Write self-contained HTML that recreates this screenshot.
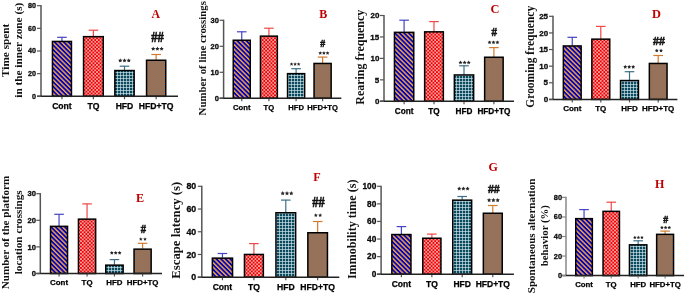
<!DOCTYPE html>
<html><head><meta charset="utf-8"><style>
html,body{margin:0;padding:0;background:#fff;}
svg{display:block;will-change:transform;filter:blur(0.3px);}
</style></head><body>
<svg width="685" height="294" viewBox="0 0 685 294">
<rect width="685" height="294" fill="#fff"/>
<defs>
<pattern id="pCont" patternUnits="userSpaceOnUse" width="3.25" height="3.25" patternTransform="rotate(45)">
<rect width="3.25" height="3.25" fill="#f5a440"/><rect width="3.25" height="1.8" fill="#0000c0"/></pattern>
<pattern id="pTQ" patternUnits="userSpaceOnUse" width="3.56" height="3.56">
<rect width="3.56" height="3.56" fill="#f00000"/><rect width="1.78" height="1.78" fill="#f5a0a0"/><rect x="1.78" y="1.78" width="1.78" height="1.78" fill="#f5a0a0"/></pattern>
<pattern id="pHFD" patternUnits="userSpaceOnUse" width="3.0" height="3.0">
<rect width="3.0" height="3.0" fill="#d6eaf0"/><rect x="0.65" y="0.65" width="2.35" height="2.35" fill="#0b4a5e"/></pattern>
<pattern id="pHT" patternUnits="userSpaceOnUse" width="2" height="2">
<rect width="2" height="2" fill="#5f7f98"/><rect width="1" height="1" fill="#cc641c"/><rect x="1" y="1" width="1" height="1" fill="#cc641c"/></pattern>
</defs>
<line x1="61.95" y1="41.10" x2="61.95" y2="37.00" stroke="#4444c6" stroke-width="1.2"/>
<line x1="57.15" y1="37.30" x2="66.75" y2="37.30" stroke="#4444c6" stroke-width="1.2"/>
<rect x="52.45" y="41.45" width="19.00" height="54.85" fill="url(#pCont)" stroke="#000" stroke-width="1.5"/>
<line x1="61.95" y1="96.30" x2="61.95" y2="99.30" stroke="#555" stroke-width="1.2"/>
<text stroke="#000" stroke-width="0.25" x="61.95" y="109.21" font-size="8.6" text-anchor="middle" font-family='"Liberation Sans", sans-serif' font-weight="bold" fill="#000">Cont</text>
<line x1="93.40" y1="36.30" x2="93.40" y2="29.90" stroke="#f04848" stroke-width="1.2"/>
<line x1="88.60" y1="30.20" x2="98.20" y2="30.20" stroke="#f04848" stroke-width="1.2"/>
<rect x="83.55" y="36.65" width="19.70" height="59.65" fill="url(#pTQ)" stroke="#000" stroke-width="1.5"/>
<line x1="93.40" y1="96.30" x2="93.40" y2="99.30" stroke="#555" stroke-width="1.2"/>
<text stroke="#000" stroke-width="0.25" x="93.40" y="109.21" font-size="8.6" text-anchor="middle" font-family='"Liberation Sans", sans-serif' font-weight="bold" fill="#000">TQ</text>
<line x1="124.50" y1="70.20" x2="124.50" y2="65.90" stroke="#3d7088" stroke-width="1.2"/>
<line x1="119.70" y1="66.20" x2="129.30" y2="66.20" stroke="#3d7088" stroke-width="1.2"/>
<rect x="114.85" y="70.55" width="19.30" height="25.75" fill="url(#pHFD)" stroke="#000" stroke-width="1.5"/>
<line x1="124.50" y1="96.30" x2="124.50" y2="99.30" stroke="#555" stroke-width="1.2"/>
<text stroke="#000" stroke-width="0.25" x="124.50" y="109.21" font-size="8.6" text-anchor="middle" font-family='"Liberation Sans", sans-serif' font-weight="bold" fill="#000">HFD</text>
<line x1="156.15" y1="59.90" x2="156.15" y2="54.20" stroke="#d27a30" stroke-width="1.2"/>
<line x1="151.35" y1="54.50" x2="160.95" y2="54.50" stroke="#d27a30" stroke-width="1.2"/>
<rect x="146.55" y="60.25" width="19.20" height="36.05" fill="url(#pHT)" stroke="#000" stroke-width="1.5"/>
<line x1="156.15" y1="96.30" x2="156.15" y2="99.30" stroke="#555" stroke-width="1.2"/>
<text stroke="#000" stroke-width="0.25" x="156.15" y="109.21" font-size="8.6" text-anchor="middle" font-family='"Liberation Sans", sans-serif' font-weight="bold" fill="#000">HFD+TQ</text>
<line x1="41.00" y1="5.10" x2="41.00" y2="96.30" stroke="#555" stroke-width="1.5"/>
<line x1="37.00" y1="96.30" x2="178.00" y2="96.30" stroke="#222" stroke-width="1.5"/>
<line x1="37.00" y1="96.30" x2="41.00" y2="96.30" stroke="#555" stroke-width="1.2"/>
<text stroke="#0a0a0a" stroke-width="0.3" x="32.09" y="98.77" font-size="7.2" font-family='"Liberation Sans", sans-serif' font-weight="bold" fill="#0a0a0a">0</text>
<line x1="37.00" y1="73.65" x2="41.00" y2="73.65" stroke="#555" stroke-width="1.2"/>
<text stroke="#0a0a0a" stroke-width="0.3" x="28.10" y="76.12" font-size="7.2" font-family='"Liberation Sans", sans-serif' font-weight="bold" fill="#0a0a0a">20</text>
<line x1="37.00" y1="51.00" x2="41.00" y2="51.00" stroke="#555" stroke-width="1.2"/>
<text stroke="#0a0a0a" stroke-width="0.3" x="28.10" y="53.48" font-size="7.2" font-family='"Liberation Sans", sans-serif' font-weight="bold" fill="#0a0a0a">40</text>
<line x1="37.00" y1="28.35" x2="41.00" y2="28.35" stroke="#555" stroke-width="1.2"/>
<text stroke="#0a0a0a" stroke-width="0.3" x="28.10" y="30.83" font-size="7.2" font-family='"Liberation Sans", sans-serif' font-weight="bold" fill="#0a0a0a">60</text>
<line x1="37.00" y1="5.70" x2="41.00" y2="5.70" stroke="#555" stroke-width="1.2"/>
<text stroke="#0a0a0a" stroke-width="0.3" x="28.10" y="8.18" font-size="7.2" font-family='"Liberation Sans", sans-serif' font-weight="bold" fill="#0a0a0a">80</text>
<text transform="translate(155.75,13.80) scale(1,1.09) translate(-155.75,-13.80)" x="151.47" y="17.69" font-size="11.8" font-family='"Liberation Serif", serif' font-weight="bold" fill="#c00000">A</text>
<polygon points="120.24,58.31 120.89,59.65 122.36,59.86 121.30,60.90 121.55,62.36 120.24,61.67 118.92,62.36 119.17,60.90 118.11,59.86 119.58,59.65" fill="#262626"/>
<polygon points="124.50,58.31 125.16,59.65 126.63,59.86 125.56,60.90 125.81,62.36 124.50,61.67 123.19,62.36 123.44,60.90 122.37,59.86 123.84,59.65" fill="#262626"/>
<polygon points="128.76,58.31 129.42,59.65 130.89,59.86 129.83,60.90 130.08,62.36 128.76,61.67 127.45,62.36 127.70,60.90 126.64,59.86 128.11,59.65" fill="#262626"/>
<polygon points="153.20,46.60 153.85,47.91 155.30,48.12 154.25,49.14 154.50,50.58 153.20,49.90 151.91,50.58 152.15,49.14 151.11,48.12 152.55,47.91" fill="#262626"/>
<polygon points="157.40,46.60 158.05,47.91 159.49,48.12 158.45,49.14 158.69,50.58 157.40,49.90 156.11,50.58 156.35,49.14 155.31,48.12 156.75,47.91" fill="#262626"/>
<polygon points="161.60,46.60 162.25,47.91 163.69,48.12 162.65,49.14 162.89,50.58 161.60,49.90 160.30,50.58 160.55,49.14 159.50,48.12 160.95,47.91" fill="#262626"/>
<text stroke="#111" stroke-width="0.5" transform="translate(157.40,37.15) scale(1,1.12) translate(-157.40,-37.15)" x="151.15" y="41.24" font-size="12.5" font-family='"Liberation Serif", serif' font-weight="bold" fill="#111">##</text>
<text transform="translate(9.40,76.97) rotate(-90)" font-size="11.25" font-family='"Liberation Serif", serif' font-weight="bold" fill="#111">Time spent</text>
<text transform="translate(22.30,97.75) rotate(-90)" font-size="11.29" font-family='"Liberation Serif", serif' font-weight="bold" fill="#111">in the inner zone (s)</text>
<line x1="241.75" y1="39.90" x2="241.75" y2="31.50" stroke="#4444c6" stroke-width="1.2"/>
<line x1="236.95" y1="31.80" x2="246.55" y2="31.80" stroke="#4444c6" stroke-width="1.2"/>
<rect x="233.25" y="40.25" width="17.00" height="58.05" fill="url(#pCont)" stroke="#000" stroke-width="1.5"/>
<line x1="241.75" y1="98.30" x2="241.75" y2="101.30" stroke="#555" stroke-width="1.2"/>
<text stroke="#000" stroke-width="0.25" x="241.75" y="109.53" font-size="7.65" text-anchor="middle" font-family='"Liberation Sans", sans-serif' font-weight="bold" fill="#000">Cont</text>
<line x1="268.90" y1="35.80" x2="268.90" y2="27.90" stroke="#f04848" stroke-width="1.2"/>
<line x1="264.10" y1="28.20" x2="273.70" y2="28.20" stroke="#f04848" stroke-width="1.2"/>
<rect x="260.45" y="36.15" width="16.90" height="62.15" fill="url(#pTQ)" stroke="#000" stroke-width="1.5"/>
<line x1="268.90" y1="98.30" x2="268.90" y2="101.30" stroke="#555" stroke-width="1.2"/>
<text stroke="#000" stroke-width="0.25" x="268.90" y="109.53" font-size="7.65" text-anchor="middle" font-family='"Liberation Sans", sans-serif' font-weight="bold" fill="#000">TQ</text>
<line x1="296.10" y1="73.30" x2="296.10" y2="68.40" stroke="#3d7088" stroke-width="1.2"/>
<line x1="291.30" y1="68.70" x2="300.90" y2="68.70" stroke="#3d7088" stroke-width="1.2"/>
<rect x="287.55" y="73.65" width="17.10" height="24.65" fill="url(#pHFD)" stroke="#000" stroke-width="1.5"/>
<line x1="296.10" y1="98.30" x2="296.10" y2="101.30" stroke="#555" stroke-width="1.2"/>
<text stroke="#000" stroke-width="0.25" x="296.10" y="109.53" font-size="7.65" text-anchor="middle" font-family='"Liberation Sans", sans-serif' font-weight="bold" fill="#000">HFD</text>
<line x1="322.60" y1="63.10" x2="322.60" y2="56.80" stroke="#d27a30" stroke-width="1.2"/>
<line x1="317.80" y1="57.10" x2="327.40" y2="57.10" stroke="#d27a30" stroke-width="1.2"/>
<rect x="314.05" y="63.45" width="17.10" height="34.85" fill="url(#pHT)" stroke="#000" stroke-width="1.5"/>
<line x1="322.60" y1="98.30" x2="322.60" y2="101.30" stroke="#555" stroke-width="1.2"/>
<text stroke="#000" stroke-width="0.25" x="322.60" y="109.53" font-size="7.65" text-anchor="middle" font-family='"Liberation Sans", sans-serif' font-weight="bold" fill="#000">HFD+TQ</text>
<line x1="223.60" y1="19.70" x2="223.60" y2="98.30" stroke="#555" stroke-width="1.5"/>
<line x1="219.60" y1="98.30" x2="341.30" y2="98.30" stroke="#222" stroke-width="1.5"/>
<line x1="219.60" y1="98.30" x2="223.60" y2="98.30" stroke="#555" stroke-width="1.2"/>
<text stroke="#0a0a0a" stroke-width="0.3" x="214.64" y="100.88" font-size="7.5" font-family='"Liberation Sans", sans-serif' font-weight="bold" fill="#0a0a0a">0</text>
<line x1="219.60" y1="72.30" x2="223.60" y2="72.30" stroke="#555" stroke-width="1.2"/>
<text stroke="#0a0a0a" stroke-width="0.3" x="210.48" y="74.88" font-size="7.5" font-family='"Liberation Sans", sans-serif' font-weight="bold" fill="#0a0a0a">10</text>
<line x1="219.60" y1="46.30" x2="223.60" y2="46.30" stroke="#555" stroke-width="1.2"/>
<text stroke="#0a0a0a" stroke-width="0.3" x="210.47" y="48.88" font-size="7.5" font-family='"Liberation Sans", sans-serif' font-weight="bold" fill="#0a0a0a">20</text>
<line x1="219.60" y1="20.30" x2="223.60" y2="20.30" stroke="#555" stroke-width="1.2"/>
<text stroke="#0a0a0a" stroke-width="0.3" x="210.47" y="22.87" font-size="7.5" font-family='"Liberation Sans", sans-serif' font-weight="bold" fill="#0a0a0a">30</text>
<text transform="translate(323.20,13.25) scale(1,1.09) translate(-323.20,-13.25)" x="319.25" y="17.16" font-size="12" font-family='"Liberation Serif", serif' font-weight="bold" fill="#c00000">B</text>
<polygon points="291.56,62.29 292.10,63.40 293.32,63.58 292.44,64.44 292.65,65.65 291.56,65.08 290.47,65.65 290.67,64.44 289.79,63.58 291.01,63.40" fill="#262626"/>
<polygon points="295.10,62.29 295.65,63.40 296.87,63.58 295.98,64.44 296.19,65.65 295.10,65.08 294.01,65.65 294.22,64.44 293.33,63.58 294.55,63.40" fill="#262626"/>
<polygon points="298.64,62.29 299.19,63.40 300.41,63.58 299.53,64.44 299.73,65.65 298.64,65.08 297.55,65.65 297.76,64.44 296.88,63.58 298.10,63.40" fill="#262626"/>
<polygon points="320.23,51.22 320.79,52.37 322.06,52.55 321.14,53.45 321.36,54.71 320.23,54.11 319.09,54.71 319.31,53.45 318.39,52.55 319.66,52.37" fill="#262626"/>
<polygon points="323.90,51.22 324.47,52.37 325.73,52.55 324.82,53.45 325.03,54.71 323.90,54.11 322.77,54.71 322.98,53.45 322.07,52.55 323.33,52.37" fill="#262626"/>
<polygon points="327.57,51.22 328.14,52.37 329.41,52.55 328.49,53.45 328.71,54.71 327.57,54.11 326.44,54.71 326.66,53.45 325.74,52.55 327.01,52.37" fill="#262626"/>
<text stroke="#111" stroke-width="0.5" transform="translate(322.80,43.30) scale(1,1.12) translate(-322.80,-43.30)" x="320.35" y="46.51" font-size="9.8" font-family='"Liberation Serif", serif' font-weight="bold" fill="#111">#</text>
<text transform="translate(205.50,115.42) rotate(-90)" font-size="10.85" font-family='"Liberation Serif", serif' font-weight="bold" fill="#111">Number of line crossings</text>
<line x1="404.10" y1="32.00" x2="404.10" y2="19.90" stroke="#4444c6" stroke-width="1.2"/>
<line x1="399.30" y1="20.20" x2="408.90" y2="20.20" stroke="#4444c6" stroke-width="1.2"/>
<rect x="394.45" y="32.35" width="19.30" height="68.95" fill="url(#pCont)" stroke="#000" stroke-width="1.5"/>
<line x1="404.10" y1="101.30" x2="404.10" y2="104.30" stroke="#555" stroke-width="1.2"/>
<text stroke="#000" stroke-width="0.25" x="404.10" y="113.82" font-size="8.2" text-anchor="middle" font-family='"Liberation Sans", sans-serif' font-weight="bold" fill="#000">Cont</text>
<line x1="434.00" y1="31.50" x2="434.00" y2="21.30" stroke="#f04848" stroke-width="1.2"/>
<line x1="429.20" y1="21.60" x2="438.80" y2="21.60" stroke="#f04848" stroke-width="1.2"/>
<rect x="424.65" y="31.85" width="18.70" height="69.45" fill="url(#pTQ)" stroke="#000" stroke-width="1.5"/>
<line x1="434.00" y1="101.30" x2="434.00" y2="104.30" stroke="#555" stroke-width="1.2"/>
<text stroke="#000" stroke-width="0.25" x="434.00" y="113.82" font-size="8.2" text-anchor="middle" font-family='"Liberation Sans", sans-serif' font-weight="bold" fill="#000">TQ</text>
<line x1="464.00" y1="74.60" x2="464.00" y2="65.50" stroke="#3d7088" stroke-width="1.2"/>
<line x1="459.20" y1="65.80" x2="468.80" y2="65.80" stroke="#3d7088" stroke-width="1.2"/>
<rect x="454.35" y="74.95" width="19.30" height="26.35" fill="url(#pHFD)" stroke="#000" stroke-width="1.5"/>
<line x1="464.00" y1="101.30" x2="464.00" y2="104.30" stroke="#555" stroke-width="1.2"/>
<text stroke="#000" stroke-width="0.25" x="464.00" y="113.82" font-size="8.2" text-anchor="middle" font-family='"Liberation Sans", sans-serif' font-weight="bold" fill="#000">HFD</text>
<line x1="493.90" y1="56.90" x2="493.90" y2="47.30" stroke="#d27a30" stroke-width="1.2"/>
<line x1="489.10" y1="47.60" x2="498.70" y2="47.60" stroke="#d27a30" stroke-width="1.2"/>
<rect x="484.65" y="57.25" width="18.50" height="44.05" fill="url(#pHT)" stroke="#000" stroke-width="1.5"/>
<line x1="493.90" y1="101.30" x2="493.90" y2="104.30" stroke="#555" stroke-width="1.2"/>
<text stroke="#000" stroke-width="0.25" x="493.90" y="113.82" font-size="8.2" text-anchor="middle" font-family='"Liberation Sans", sans-serif' font-weight="bold" fill="#000">HFD+TQ</text>
<line x1="384.00" y1="14.90" x2="384.00" y2="101.30" stroke="#555" stroke-width="1.5"/>
<line x1="380.00" y1="101.30" x2="514.00" y2="101.30" stroke="#222" stroke-width="1.5"/>
<line x1="380.00" y1="101.30" x2="384.00" y2="101.30" stroke="#555" stroke-width="1.2"/>
<text stroke="#0a0a0a" stroke-width="0.3" x="374.88" y="104.05" font-size="8.0" font-family='"Liberation Sans", sans-serif' font-weight="bold" fill="#0a0a0a">0</text>
<line x1="380.00" y1="79.85" x2="384.00" y2="79.85" stroke="#555" stroke-width="1.2"/>
<text stroke="#0a0a0a" stroke-width="0.3" x="374.78" y="82.56" font-size="8.0" font-family='"Liberation Sans", sans-serif' font-weight="bold" fill="#0a0a0a">5</text>
<line x1="380.00" y1="58.40" x2="384.00" y2="58.40" stroke="#555" stroke-width="1.2"/>
<text stroke="#0a0a0a" stroke-width="0.3" x="370.44" y="61.15" font-size="8.0" font-family='"Liberation Sans", sans-serif' font-weight="bold" fill="#0a0a0a">10</text>
<line x1="380.00" y1="36.95" x2="384.00" y2="36.95" stroke="#555" stroke-width="1.2"/>
<text stroke="#0a0a0a" stroke-width="0.3" x="370.34" y="39.66" font-size="8.0" font-family='"Liberation Sans", sans-serif' font-weight="bold" fill="#0a0a0a">15</text>
<line x1="380.00" y1="15.50" x2="384.00" y2="15.50" stroke="#555" stroke-width="1.2"/>
<text stroke="#0a0a0a" stroke-width="0.3" x="370.44" y="18.25" font-size="8.0" font-family='"Liberation Sans", sans-serif' font-weight="bold" fill="#0a0a0a">20</text>
<text transform="translate(494.75,8.40) scale(1,1.09) translate(-494.75,-8.40)" x="490.44" y="12.45" font-size="12.4" font-family='"Liberation Serif", serif' font-weight="bold" fill="#c00000">C</text>
<polygon points="460.50,60.40 461.13,61.68 462.54,61.89 461.52,62.88 461.76,64.29 460.50,63.62 459.24,64.29 459.48,62.88 458.46,61.89 459.87,61.68" fill="#262626"/>
<polygon points="464.60,60.40 465.23,61.68 466.64,61.89 465.62,62.88 465.86,64.29 464.60,63.62 463.34,64.29 463.58,62.88 462.56,61.89 463.97,61.68" fill="#262626"/>
<polygon points="468.70,60.40 469.33,61.68 470.74,61.89 469.72,62.88 469.96,64.29 468.70,63.62 467.44,64.29 467.68,62.88 466.66,61.89 468.07,61.68" fill="#262626"/>
<polygon points="489.56,40.39 490.17,41.62 491.53,41.81 490.55,42.77 490.78,44.12 489.56,43.48 488.35,44.12 488.58,42.77 487.60,41.81 488.96,41.62" fill="#262626"/>
<polygon points="493.50,40.39 494.11,41.62 495.46,41.81 494.48,42.77 494.71,44.12 493.50,43.48 492.29,44.12 492.52,42.77 491.54,41.81 492.89,41.62" fill="#262626"/>
<polygon points="497.44,40.39 498.04,41.62 499.40,41.81 498.42,42.77 498.65,44.12 497.44,43.48 496.22,44.12 496.45,42.77 495.47,41.81 496.83,41.62" fill="#262626"/>
<text stroke="#111" stroke-width="0.5" transform="translate(494.30,32.00) scale(1,1.12) translate(-494.30,-32.00)" x="491.55" y="35.60" font-size="11.0" font-family='"Liberation Serif", serif' font-weight="bold" fill="#111">#</text>
<text transform="translate(364.40,104.71) rotate(-90)" font-size="11.95" font-family='"Liberation Serif", serif' font-weight="bold" fill="#111">Rearing frequency</text>
<line x1="572.25" y1="45.60" x2="572.25" y2="37.00" stroke="#4444c6" stroke-width="1.2"/>
<line x1="567.45" y1="37.30" x2="577.05" y2="37.30" stroke="#4444c6" stroke-width="1.2"/>
<rect x="563.35" y="45.95" width="17.80" height="53.45" fill="url(#pCont)" stroke="#000" stroke-width="1.5"/>
<line x1="572.25" y1="99.40" x2="572.25" y2="102.40" stroke="#555" stroke-width="1.2"/>
<text stroke="#000" stroke-width="0.25" x="572.25" y="110.95" font-size="8.0" text-anchor="middle" font-family='"Liberation Sans", sans-serif' font-weight="bold" fill="#000">Cont</text>
<line x1="600.80" y1="38.80" x2="600.80" y2="26.10" stroke="#f04848" stroke-width="1.2"/>
<line x1="596.00" y1="26.40" x2="605.60" y2="26.40" stroke="#f04848" stroke-width="1.2"/>
<rect x="591.85" y="39.15" width="17.90" height="60.25" fill="url(#pTQ)" stroke="#000" stroke-width="1.5"/>
<line x1="600.80" y1="99.40" x2="600.80" y2="102.40" stroke="#555" stroke-width="1.2"/>
<text stroke="#000" stroke-width="0.25" x="600.80" y="110.95" font-size="8.0" text-anchor="middle" font-family='"Liberation Sans", sans-serif' font-weight="bold" fill="#000">TQ</text>
<line x1="629.50" y1="80.20" x2="629.50" y2="71.40" stroke="#3d7088" stroke-width="1.2"/>
<line x1="624.70" y1="71.70" x2="634.30" y2="71.70" stroke="#3d7088" stroke-width="1.2"/>
<rect x="620.55" y="80.55" width="17.90" height="18.85" fill="url(#pHFD)" stroke="#000" stroke-width="1.5"/>
<line x1="629.50" y1="99.40" x2="629.50" y2="102.40" stroke="#555" stroke-width="1.2"/>
<text stroke="#000" stroke-width="0.25" x="629.50" y="110.95" font-size="8.0" text-anchor="middle" font-family='"Liberation Sans", sans-serif' font-weight="bold" fill="#000">HFD</text>
<line x1="658.20" y1="63.10" x2="658.20" y2="55.20" stroke="#d27a30" stroke-width="1.2"/>
<line x1="653.40" y1="55.50" x2="663.00" y2="55.50" stroke="#d27a30" stroke-width="1.2"/>
<rect x="649.35" y="63.45" width="17.70" height="35.95" fill="url(#pHT)" stroke="#000" stroke-width="1.5"/>
<line x1="658.20" y1="99.40" x2="658.20" y2="102.40" stroke="#555" stroke-width="1.2"/>
<text stroke="#000" stroke-width="0.25" x="658.20" y="110.95" font-size="8.0" text-anchor="middle" font-family='"Liberation Sans", sans-serif' font-weight="bold" fill="#000">HFD+TQ</text>
<line x1="553.00" y1="15.70" x2="553.00" y2="99.40" stroke="#555" stroke-width="1.5"/>
<line x1="549.00" y1="99.40" x2="677.40" y2="99.40" stroke="#222" stroke-width="1.5"/>
<line x1="549.00" y1="99.40" x2="553.00" y2="99.40" stroke="#555" stroke-width="1.2"/>
<text stroke="#0a0a0a" stroke-width="0.3" x="543.68" y="102.15" font-size="8.0" font-family='"Liberation Sans", sans-serif' font-weight="bold" fill="#0a0a0a">0</text>
<line x1="549.00" y1="82.78" x2="553.00" y2="82.78" stroke="#555" stroke-width="1.2"/>
<text stroke="#0a0a0a" stroke-width="0.3" x="543.58" y="85.49" font-size="8.0" font-family='"Liberation Sans", sans-serif' font-weight="bold" fill="#0a0a0a">5</text>
<line x1="549.00" y1="66.16" x2="553.00" y2="66.16" stroke="#555" stroke-width="1.2"/>
<text stroke="#0a0a0a" stroke-width="0.3" x="539.24" y="68.91" font-size="8.0" font-family='"Liberation Sans", sans-serif' font-weight="bold" fill="#0a0a0a">10</text>
<line x1="549.00" y1="49.54" x2="553.00" y2="49.54" stroke="#555" stroke-width="1.2"/>
<text stroke="#0a0a0a" stroke-width="0.3" x="539.14" y="52.25" font-size="8.0" font-family='"Liberation Sans", sans-serif' font-weight="bold" fill="#0a0a0a">15</text>
<line x1="549.00" y1="32.92" x2="553.00" y2="32.92" stroke="#555" stroke-width="1.2"/>
<text stroke="#0a0a0a" stroke-width="0.3" x="539.24" y="35.67" font-size="8.0" font-family='"Liberation Sans", sans-serif' font-weight="bold" fill="#0a0a0a">20</text>
<line x1="549.00" y1="16.30" x2="553.00" y2="16.30" stroke="#555" stroke-width="1.2"/>
<text stroke="#0a0a0a" stroke-width="0.3" x="539.14" y="19.05" font-size="8.0" font-family='"Liberation Sans", sans-serif' font-weight="bold" fill="#0a0a0a">25</text>
<text transform="translate(656.40,13.40) scale(1,1.09) translate(-656.40,-13.40)" x="652.12" y="17.45" font-size="12.4" font-family='"Liberation Serif", serif' font-weight="bold" fill="#c00000">D</text>
<polygon points="625.23,64.87 625.84,66.11 627.21,66.31 626.22,67.27 626.45,68.63 625.23,67.99 624.01,68.63 624.24,67.27 623.25,66.31 624.62,66.11" fill="#262626"/>
<polygon points="629.20,64.87 629.81,66.11 631.18,66.31 630.19,67.27 630.42,68.63 629.20,67.99 627.98,68.63 628.21,67.27 627.22,66.31 628.59,66.11" fill="#262626"/>
<polygon points="633.17,64.87 633.78,66.11 635.15,66.31 634.16,67.27 634.39,68.63 633.17,67.99 631.95,68.63 632.18,67.27 631.19,66.31 632.56,66.11" fill="#262626"/>
<polygon points="656.75,48.70 657.33,49.86 658.61,50.05 657.68,50.95 657.90,52.23 656.75,51.63 655.60,52.23 655.82,50.95 654.90,50.05 656.18,49.86" fill="#262626"/>
<polygon points="661.05,48.70 661.62,49.86 662.90,50.05 661.98,50.95 662.20,52.23 661.05,51.63 659.90,52.23 660.12,50.95 659.19,50.05 660.47,49.86" fill="#262626"/>
<text stroke="#111" stroke-width="0.5" transform="translate(658.90,40.60) scale(1,1.12) translate(-658.90,-40.60)" x="653.00" y="44.46" font-size="11.8" font-family='"Liberation Serif", serif' font-weight="bold" fill="#111">##</text>
<text transform="translate(533.80,107.67) rotate(-90)" font-size="11.47" font-family='"Liberation Serif", serif' font-weight="bold" fill="#111">Grooming frequency</text>
<line x1="59.05" y1="226.00" x2="59.05" y2="214.00" stroke="#4444c6" stroke-width="1.2"/>
<line x1="54.25" y1="214.30" x2="63.85" y2="214.30" stroke="#4444c6" stroke-width="1.2"/>
<rect x="50.55" y="226.35" width="17.00" height="47.15" fill="url(#pCont)" stroke="#000" stroke-width="1.5"/>
<line x1="59.05" y1="273.50" x2="59.05" y2="276.50" stroke="#555" stroke-width="1.2"/>
<text stroke="#000" stroke-width="0.25" x="59.05" y="285.02" font-size="7.9" text-anchor="middle" font-family='"Liberation Sans", sans-serif' font-weight="bold" fill="#000">Cont</text>
<line x1="87.05" y1="218.80" x2="87.05" y2="203.60" stroke="#f04848" stroke-width="1.2"/>
<line x1="82.25" y1="203.90" x2="91.85" y2="203.90" stroke="#f04848" stroke-width="1.2"/>
<rect x="78.45" y="219.15" width="17.20" height="54.35" fill="url(#pTQ)" stroke="#000" stroke-width="1.5"/>
<line x1="87.05" y1="273.50" x2="87.05" y2="276.50" stroke="#555" stroke-width="1.2"/>
<text stroke="#000" stroke-width="0.25" x="87.05" y="285.02" font-size="7.9" text-anchor="middle" font-family='"Liberation Sans", sans-serif' font-weight="bold" fill="#000">TQ</text>
<line x1="114.45" y1="264.80" x2="114.45" y2="259.30" stroke="#3d7088" stroke-width="1.2"/>
<line x1="109.65" y1="259.60" x2="119.25" y2="259.60" stroke="#3d7088" stroke-width="1.2"/>
<rect x="105.75" y="265.15" width="17.40" height="8.35" fill="url(#pHFD)" stroke="#000" stroke-width="1.5"/>
<line x1="114.45" y1="273.50" x2="114.45" y2="276.50" stroke="#555" stroke-width="1.2"/>
<text stroke="#000" stroke-width="0.25" x="114.45" y="285.02" font-size="7.9" text-anchor="middle" font-family='"Liberation Sans", sans-serif' font-weight="bold" fill="#000">HFD</text>
<line x1="142.60" y1="248.80" x2="142.60" y2="243.00" stroke="#d27a30" stroke-width="1.2"/>
<line x1="137.80" y1="243.30" x2="147.40" y2="243.30" stroke="#d27a30" stroke-width="1.2"/>
<rect x="134.05" y="249.15" width="17.10" height="24.35" fill="url(#pHT)" stroke="#000" stroke-width="1.5"/>
<line x1="142.60" y1="273.50" x2="142.60" y2="276.50" stroke="#555" stroke-width="1.2"/>
<text stroke="#000" stroke-width="0.25" x="142.60" y="285.02" font-size="7.9" text-anchor="middle" font-family='"Liberation Sans", sans-serif' font-weight="bold" fill="#000">HFD+TQ</text>
<line x1="40.30" y1="193.10" x2="40.30" y2="273.50" stroke="#555" stroke-width="1.5"/>
<line x1="36.30" y1="273.50" x2="162.00" y2="273.50" stroke="#222" stroke-width="1.5"/>
<line x1="36.30" y1="273.50" x2="40.30" y2="273.50" stroke="#555" stroke-width="1.2"/>
<text stroke="#0a0a0a" stroke-width="0.3" x="31.79" y="276.11" font-size="7.6" font-family='"Liberation Sans", sans-serif' font-weight="bold" fill="#0a0a0a">0</text>
<line x1="36.30" y1="246.90" x2="40.30" y2="246.90" stroke="#555" stroke-width="1.2"/>
<text stroke="#0a0a0a" stroke-width="0.3" x="27.57" y="249.51" font-size="7.6" font-family='"Liberation Sans", sans-serif' font-weight="bold" fill="#0a0a0a">10</text>
<line x1="36.30" y1="220.30" x2="40.30" y2="220.30" stroke="#555" stroke-width="1.2"/>
<text stroke="#0a0a0a" stroke-width="0.3" x="27.57" y="222.91" font-size="7.6" font-family='"Liberation Sans", sans-serif' font-weight="bold" fill="#0a0a0a">20</text>
<line x1="36.30" y1="193.70" x2="40.30" y2="193.70" stroke="#555" stroke-width="1.2"/>
<text stroke="#0a0a0a" stroke-width="0.3" x="27.57" y="196.30" font-size="7.6" font-family='"Liberation Sans", sans-serif' font-weight="bold" fill="#0a0a0a">30</text>
<text transform="translate(139.90,197.40) scale(1,1.09) translate(-139.90,-197.40)" x="136.04" y="201.40" font-size="12.2" font-family='"Liberation Serif", serif' font-weight="bold" fill="#c00000">E</text>
<polygon points="111.80,250.90 112.40,252.12 113.74,252.32 112.77,253.27 113.00,254.61 111.80,253.97 110.59,254.61 110.82,253.27 109.85,252.32 111.20,252.12" fill="#262626"/>
<polygon points="115.70,250.90 116.30,252.12 117.65,252.32 116.67,253.27 116.90,254.61 115.70,253.97 114.50,254.61 114.73,253.27 113.75,252.32 115.10,252.12" fill="#262626"/>
<polygon points="119.60,250.90 120.20,252.12 121.55,252.32 120.58,253.27 120.81,254.61 119.60,253.97 118.40,254.61 118.63,253.27 117.66,252.32 119.00,252.12" fill="#262626"/>
<polygon points="140.80,237.25 141.36,238.38 142.61,238.56 141.71,239.44 141.92,240.69 140.80,240.10 139.68,240.69 139.90,239.44 138.99,238.56 140.24,238.38" fill="#262626"/>
<polygon points="145.00,237.25 145.56,238.38 146.81,238.56 145.90,239.44 146.12,240.69 145.00,240.10 143.88,240.69 144.09,239.44 143.19,238.56 144.44,238.38" fill="#262626"/>
<text stroke="#111" stroke-width="0.5" transform="translate(143.50,229.30) scale(1,1.12) translate(-143.50,-229.30)" x="140.88" y="232.74" font-size="10.5" font-family='"Liberation Serif", serif' font-weight="bold" fill="#111">#</text>
<text transform="translate(8.60,289.22) rotate(-90)" font-size="11.08" font-family='"Liberation Serif", serif' font-weight="bold" fill="#111">Number of the platform</text>
<text transform="translate(21.90,274.32) rotate(-90)" font-size="11.19" font-family='"Liberation Serif", serif' font-weight="bold" fill="#111">location crossings</text>
<line x1="222.45" y1="257.80" x2="222.45" y2="253.20" stroke="#4444c6" stroke-width="1.2"/>
<line x1="217.65" y1="253.50" x2="227.25" y2="253.50" stroke="#4444c6" stroke-width="1.2"/>
<rect x="212.35" y="258.15" width="20.20" height="19.05" fill="url(#pCont)" stroke="#000" stroke-width="1.5"/>
<line x1="222.45" y1="277.20" x2="222.45" y2="280.20" stroke="#555" stroke-width="1.2"/>
<text stroke="#000" stroke-width="0.25" x="222.45" y="290.16" font-size="8.6" text-anchor="middle" font-family='"Liberation Sans", sans-serif' font-weight="bold" fill="#000">Cont</text>
<line x1="253.90" y1="254.10" x2="253.90" y2="243.30" stroke="#f04848" stroke-width="1.2"/>
<line x1="249.10" y1="243.60" x2="258.70" y2="243.60" stroke="#f04848" stroke-width="1.2"/>
<rect x="244.45" y="254.45" width="18.90" height="22.75" fill="url(#pTQ)" stroke="#000" stroke-width="1.5"/>
<line x1="253.90" y1="277.20" x2="253.90" y2="280.20" stroke="#555" stroke-width="1.2"/>
<text stroke="#000" stroke-width="0.25" x="253.90" y="290.16" font-size="8.6" text-anchor="middle" font-family='"Liberation Sans", sans-serif' font-weight="bold" fill="#000">TQ</text>
<line x1="285.80" y1="212.40" x2="285.80" y2="199.80" stroke="#3d7088" stroke-width="1.2"/>
<line x1="281.00" y1="200.10" x2="290.60" y2="200.10" stroke="#3d7088" stroke-width="1.2"/>
<rect x="275.95" y="212.75" width="19.70" height="64.45" fill="url(#pHFD)" stroke="#000" stroke-width="1.5"/>
<line x1="285.80" y1="277.20" x2="285.80" y2="280.20" stroke="#555" stroke-width="1.2"/>
<text stroke="#000" stroke-width="0.25" x="285.80" y="290.16" font-size="8.6" text-anchor="middle" font-family='"Liberation Sans", sans-serif' font-weight="bold" fill="#000">HFD</text>
<line x1="317.65" y1="232.40" x2="317.65" y2="221.20" stroke="#d27a30" stroke-width="1.2"/>
<line x1="312.85" y1="221.50" x2="322.45" y2="221.50" stroke="#d27a30" stroke-width="1.2"/>
<rect x="307.85" y="232.75" width="19.60" height="44.45" fill="url(#pHT)" stroke="#000" stroke-width="1.5"/>
<line x1="317.65" y1="277.20" x2="317.65" y2="280.20" stroke="#555" stroke-width="1.2"/>
<text stroke="#000" stroke-width="0.25" x="317.65" y="290.16" font-size="8.6" text-anchor="middle" font-family='"Liberation Sans", sans-serif' font-weight="bold" fill="#000">HFD+TQ</text>
<line x1="201.80" y1="185.70" x2="201.80" y2="277.20" stroke="#555" stroke-width="1.5"/>
<line x1="197.80" y1="277.20" x2="339.30" y2="277.20" stroke="#222" stroke-width="1.5"/>
<line x1="197.80" y1="277.20" x2="201.80" y2="277.20" stroke="#555" stroke-width="1.2"/>
<text stroke="#0a0a0a" stroke-width="0.3" x="191.27" y="280.22" font-size="8.8" font-family='"Liberation Sans", sans-serif' font-weight="bold" fill="#0a0a0a">0</text>
<line x1="197.80" y1="254.47" x2="201.80" y2="254.47" stroke="#555" stroke-width="1.2"/>
<text stroke="#0a0a0a" stroke-width="0.3" x="186.38" y="257.50" font-size="8.8" font-family='"Liberation Sans", sans-serif' font-weight="bold" fill="#0a0a0a">20</text>
<line x1="197.80" y1="231.75" x2="201.80" y2="231.75" stroke="#555" stroke-width="1.2"/>
<text stroke="#0a0a0a" stroke-width="0.3" x="186.38" y="234.78" font-size="8.8" font-family='"Liberation Sans", sans-serif' font-weight="bold" fill="#0a0a0a">40</text>
<line x1="197.80" y1="209.03" x2="201.80" y2="209.03" stroke="#555" stroke-width="1.2"/>
<text stroke="#0a0a0a" stroke-width="0.3" x="186.38" y="212.05" font-size="8.8" font-family='"Liberation Sans", sans-serif' font-weight="bold" fill="#0a0a0a">60</text>
<line x1="197.80" y1="186.30" x2="201.80" y2="186.30" stroke="#555" stroke-width="1.2"/>
<text stroke="#0a0a0a" stroke-width="0.3" x="186.38" y="189.33" font-size="8.8" font-family='"Liberation Sans", sans-serif' font-weight="bold" fill="#0a0a0a">80</text>
<text transform="translate(316.80,176.15) scale(1,1.09) translate(-316.80,-176.15)" x="313.26" y="180.15" font-size="12.2" font-family='"Liberation Serif", serif' font-weight="bold" fill="#c00000">F</text>
<polygon points="282.70,191.10 283.37,192.44 284.85,192.65 283.77,193.70 284.03,195.17 282.70,194.48 281.38,195.17 281.63,193.70 280.56,192.65 282.04,192.44" fill="#262626"/>
<polygon points="287.00,191.10 287.66,192.44 289.14,192.65 288.07,193.70 288.32,195.17 287.00,194.48 285.68,195.17 285.93,193.70 284.86,192.65 286.34,192.44" fill="#262626"/>
<polygon points="291.30,191.10 291.96,192.44 293.44,192.65 292.37,193.70 292.62,195.17 291.30,194.48 289.97,195.17 290.23,193.70 289.15,192.65 290.63,192.44" fill="#262626"/>
<polygon points="315.83,213.37 316.41,214.55 317.70,214.74 316.76,215.66 316.99,216.95 315.83,216.34 314.66,216.95 314.89,215.66 313.95,214.74 315.24,214.55" fill="#262626"/>
<polygon points="320.17,213.37 320.76,214.55 322.05,214.74 321.11,215.66 321.34,216.95 320.17,216.34 319.01,216.95 319.24,215.66 318.30,214.74 319.59,214.55" fill="#262626"/>
<text stroke="#111" stroke-width="0.5" transform="translate(318.50,202.70) scale(1,1.12) translate(-318.50,-202.70)" x="312.35" y="206.73" font-size="12.3" font-family='"Liberation Serif", serif' font-weight="bold" fill="#111">##</text>
<text transform="translate(180.30,278.72) rotate(-90)" font-size="12.75" font-family='"Liberation Serif", serif' font-weight="bold" fill="#111">Escape latency (s)</text>
<line x1="401.40" y1="234.20" x2="401.40" y2="226.30" stroke="#4444c6" stroke-width="1.2"/>
<line x1="396.60" y1="226.60" x2="406.20" y2="226.60" stroke="#4444c6" stroke-width="1.2"/>
<rect x="391.85" y="234.55" width="19.10" height="39.65" fill="url(#pCont)" stroke="#000" stroke-width="1.5"/>
<line x1="401.40" y1="274.20" x2="401.40" y2="277.20" stroke="#555" stroke-width="1.2"/>
<text stroke="#000" stroke-width="0.25" x="401.40" y="286.82" font-size="8.5" text-anchor="middle" font-family='"Liberation Sans", sans-serif' font-weight="bold" fill="#000">Cont</text>
<line x1="431.85" y1="237.90" x2="431.85" y2="233.80" stroke="#f04848" stroke-width="1.2"/>
<line x1="427.05" y1="234.10" x2="436.65" y2="234.10" stroke="#f04848" stroke-width="1.2"/>
<rect x="422.75" y="238.25" width="18.20" height="35.95" fill="url(#pTQ)" stroke="#000" stroke-width="1.5"/>
<line x1="431.85" y1="274.20" x2="431.85" y2="277.20" stroke="#555" stroke-width="1.2"/>
<text stroke="#000" stroke-width="0.25" x="431.85" y="286.82" font-size="8.5" text-anchor="middle" font-family='"Liberation Sans", sans-serif' font-weight="bold" fill="#000">TQ</text>
<line x1="462.20" y1="199.80" x2="462.20" y2="196.20" stroke="#3d7088" stroke-width="1.2"/>
<line x1="457.40" y1="196.50" x2="467.00" y2="196.50" stroke="#3d7088" stroke-width="1.2"/>
<rect x="452.75" y="200.15" width="18.90" height="74.05" fill="url(#pHFD)" stroke="#000" stroke-width="1.5"/>
<line x1="462.20" y1="274.20" x2="462.20" y2="277.20" stroke="#555" stroke-width="1.2"/>
<text stroke="#000" stroke-width="0.25" x="462.20" y="286.82" font-size="8.5" text-anchor="middle" font-family='"Liberation Sans", sans-serif' font-weight="bold" fill="#000">HFD</text>
<line x1="492.80" y1="212.90" x2="492.80" y2="205.20" stroke="#d27a30" stroke-width="1.2"/>
<line x1="488.00" y1="205.50" x2="497.60" y2="205.50" stroke="#d27a30" stroke-width="1.2"/>
<rect x="483.35" y="213.25" width="18.90" height="60.95" fill="url(#pHT)" stroke="#000" stroke-width="1.5"/>
<line x1="492.80" y1="274.20" x2="492.80" y2="277.20" stroke="#555" stroke-width="1.2"/>
<text stroke="#000" stroke-width="0.25" x="492.80" y="286.82" font-size="8.5" text-anchor="middle" font-family='"Liberation Sans", sans-serif' font-weight="bold" fill="#000">HFD+TQ</text>
<line x1="381.10" y1="185.70" x2="381.10" y2="274.20" stroke="#555" stroke-width="1.5"/>
<line x1="377.10" y1="274.20" x2="513.90" y2="274.20" stroke="#222" stroke-width="1.5"/>
<line x1="377.10" y1="274.20" x2="381.10" y2="274.20" stroke="#555" stroke-width="1.2"/>
<text stroke="#0a0a0a" stroke-width="0.3" x="371.73" y="277.05" font-size="8.3" font-family='"Liberation Sans", sans-serif' font-weight="bold" fill="#0a0a0a">0</text>
<line x1="377.10" y1="256.62" x2="381.10" y2="256.62" stroke="#555" stroke-width="1.2"/>
<text stroke="#0a0a0a" stroke-width="0.3" x="367.12" y="259.47" font-size="8.3" font-family='"Liberation Sans", sans-serif' font-weight="bold" fill="#0a0a0a">20</text>
<line x1="377.10" y1="239.04" x2="381.10" y2="239.04" stroke="#555" stroke-width="1.2"/>
<text stroke="#0a0a0a" stroke-width="0.3" x="367.12" y="241.89" font-size="8.3" font-family='"Liberation Sans", sans-serif' font-weight="bold" fill="#0a0a0a">40</text>
<line x1="377.10" y1="221.46" x2="381.10" y2="221.46" stroke="#555" stroke-width="1.2"/>
<text stroke="#0a0a0a" stroke-width="0.3" x="367.12" y="224.31" font-size="8.3" font-family='"Liberation Sans", sans-serif' font-weight="bold" fill="#0a0a0a">60</text>
<line x1="377.10" y1="203.88" x2="381.10" y2="203.88" stroke="#555" stroke-width="1.2"/>
<text stroke="#0a0a0a" stroke-width="0.3" x="367.12" y="206.73" font-size="8.3" font-family='"Liberation Sans", sans-serif' font-weight="bold" fill="#0a0a0a">80</text>
<line x1="377.10" y1="186.30" x2="381.10" y2="186.30" stroke="#555" stroke-width="1.2"/>
<text stroke="#0a0a0a" stroke-width="0.3" x="362.49" y="189.15" font-size="8.3" font-family='"Liberation Sans", sans-serif' font-weight="bold" fill="#0a0a0a">100</text>
<text transform="translate(493.40,166.70) scale(1,1.09) translate(-493.40,-166.70)" x="488.60" y="170.61" font-size="12" font-family='"Liberation Serif", serif' font-weight="bold" fill="#c00000">G</text>
<polygon points="459.23,186.57 459.88,187.87 461.31,188.07 460.27,189.09 460.52,190.52 459.23,189.84 457.95,190.52 458.20,189.09 457.16,188.07 458.59,187.87" fill="#262626"/>
<polygon points="463.40,186.57 464.04,187.87 465.48,188.07 464.44,189.09 464.68,190.52 463.40,189.84 462.12,190.52 462.36,189.09 461.32,188.07 462.76,187.87" fill="#262626"/>
<polygon points="467.57,186.57 468.21,187.87 469.64,188.07 468.60,189.09 468.85,190.52 467.57,189.84 466.28,190.52 466.53,189.09 465.49,188.07 466.92,187.87" fill="#262626"/>
<polygon points="489.10,198.00 489.77,199.34 491.25,199.55 490.17,200.60 490.43,202.07 489.10,201.38 487.78,202.07 488.03,200.60 486.96,199.55 488.44,199.34" fill="#262626"/>
<polygon points="493.40,198.00 494.06,199.34 495.54,199.55 494.47,200.60 494.72,202.07 493.40,201.38 492.08,202.07 492.33,200.60 491.26,199.55 492.74,199.34" fill="#262626"/>
<polygon points="497.70,198.00 498.36,199.34 499.84,199.55 498.77,200.60 499.02,202.07 497.70,201.38 496.37,202.07 496.63,200.60 495.55,199.55 497.03,199.34" fill="#262626"/>
<text stroke="#111" stroke-width="0.5" transform="translate(493.80,188.30) scale(1,1.12) translate(-493.80,-188.30)" x="487.90" y="192.16" font-size="11.8" font-family='"Liberation Serif", serif' font-weight="bold" fill="#111">##</text>
<text transform="translate(355.90,279.09) rotate(-90)" font-size="12.11" font-family='"Liberation Serif", serif' font-weight="bold" fill="#111">Immobility time (s)</text>
<line x1="584.05" y1="218.30" x2="584.05" y2="209.30" stroke="#4444c6" stroke-width="1.2"/>
<line x1="579.25" y1="209.60" x2="588.85" y2="209.60" stroke="#4444c6" stroke-width="1.2"/>
<rect x="575.75" y="218.65" width="16.60" height="56.95" fill="url(#pCont)" stroke="#000" stroke-width="1.5"/>
<line x1="584.05" y1="275.60" x2="584.05" y2="278.60" stroke="#888" stroke-width="1.2"/>
<text stroke="#000" stroke-width="0.25" x="584.05" y="286.68" font-size="7.8" text-anchor="middle" font-family='"Liberation Sans", sans-serif' font-weight="bold" fill="#000">Cont</text>
<line x1="611.25" y1="211.00" x2="611.25" y2="201.90" stroke="#f04848" stroke-width="1.2"/>
<line x1="606.45" y1="202.20" x2="616.05" y2="202.20" stroke="#f04848" stroke-width="1.2"/>
<rect x="603.05" y="211.35" width="16.40" height="64.25" fill="url(#pTQ)" stroke="#000" stroke-width="1.5"/>
<line x1="611.25" y1="275.60" x2="611.25" y2="278.60" stroke="#888" stroke-width="1.2"/>
<text stroke="#000" stroke-width="0.25" x="611.25" y="286.68" font-size="7.8" text-anchor="middle" font-family='"Liberation Sans", sans-serif' font-weight="bold" fill="#000">TQ</text>
<line x1="638.15" y1="244.50" x2="638.15" y2="240.50" stroke="#3d7088" stroke-width="1.2"/>
<line x1="633.35" y1="240.80" x2="642.95" y2="240.80" stroke="#3d7088" stroke-width="1.2"/>
<rect x="629.45" y="244.85" width="17.40" height="30.75" fill="url(#pHFD)" stroke="#000" stroke-width="1.5"/>
<line x1="638.15" y1="275.60" x2="638.15" y2="278.60" stroke="#888" stroke-width="1.2"/>
<text stroke="#000" stroke-width="0.25" x="638.15" y="286.68" font-size="7.8" text-anchor="middle" font-family='"Liberation Sans", sans-serif' font-weight="bold" fill="#000">HFD</text>
<line x1="665.10" y1="234.00" x2="665.10" y2="230.80" stroke="#d27a30" stroke-width="1.2"/>
<line x1="660.30" y1="231.10" x2="669.90" y2="231.10" stroke="#d27a30" stroke-width="1.2"/>
<rect x="656.65" y="234.35" width="16.90" height="41.25" fill="url(#pHT)" stroke="#000" stroke-width="1.5"/>
<line x1="665.10" y1="275.60" x2="665.10" y2="278.60" stroke="#888" stroke-width="1.2"/>
<text stroke="#000" stroke-width="0.25" x="665.10" y="286.68" font-size="7.8" text-anchor="middle" font-family='"Liberation Sans", sans-serif' font-weight="bold" fill="#000">HFD+TQ</text>
<line x1="566.00" y1="196.80" x2="566.00" y2="275.60" stroke="#888" stroke-width="1.5"/>
<line x1="562.00" y1="275.60" x2="684.10" y2="275.60" stroke="#222" stroke-width="1.5"/>
<line x1="562.00" y1="275.60" x2="566.00" y2="275.60" stroke="#888" stroke-width="1.2"/>
<text stroke="#0a0a0a" stroke-width="0.3" x="557.89" y="278.14" font-size="7.4" font-family='"Liberation Sans", sans-serif' font-weight="bold" fill="#0a0a0a">0</text>
<line x1="562.00" y1="256.05" x2="566.00" y2="256.05" stroke="#888" stroke-width="1.2"/>
<text stroke="#0a0a0a" stroke-width="0.3" x="553.78" y="258.59" font-size="7.4" font-family='"Liberation Sans", sans-serif' font-weight="bold" fill="#0a0a0a">20</text>
<line x1="562.00" y1="236.50" x2="566.00" y2="236.50" stroke="#888" stroke-width="1.2"/>
<text stroke="#0a0a0a" stroke-width="0.3" x="553.78" y="239.04" font-size="7.4" font-family='"Liberation Sans", sans-serif' font-weight="bold" fill="#0a0a0a">40</text>
<line x1="562.00" y1="216.95" x2="566.00" y2="216.95" stroke="#888" stroke-width="1.2"/>
<text stroke="#0a0a0a" stroke-width="0.3" x="553.78" y="219.49" font-size="7.4" font-family='"Liberation Sans", sans-serif' font-weight="bold" fill="#0a0a0a">60</text>
<line x1="562.00" y1="197.40" x2="566.00" y2="197.40" stroke="#888" stroke-width="1.2"/>
<text stroke="#0a0a0a" stroke-width="0.3" x="553.78" y="199.94" font-size="7.4" font-family='"Liberation Sans", sans-serif' font-weight="bold" fill="#0a0a0a">80</text>
<text transform="translate(659.60,183.35) scale(1,1.09) translate(-659.60,-183.35)" x="654.92" y="187.28" font-size="12" font-family='"Liberation Serif", serif' font-weight="bold" fill="#c00000">H</text>
<polygon points="634.86,235.69 635.40,236.80 636.62,236.98 635.74,237.84 635.95,239.05 634.86,238.48 633.77,239.05 633.97,237.84 633.09,236.98 634.31,236.80" fill="#262626"/>
<polygon points="638.40,235.69 638.95,236.80 640.17,236.98 639.28,237.84 639.49,239.05 638.40,238.48 637.31,239.05 637.52,237.84 636.63,236.98 637.85,236.80" fill="#262626"/>
<polygon points="641.94,235.69 642.49,236.80 643.71,236.98 642.83,237.84 643.03,239.05 641.94,238.48 640.85,239.05 641.06,237.84 640.18,236.98 641.40,236.80" fill="#262626"/>
<polygon points="661.93,225.72 662.49,226.87 663.76,227.05 662.84,227.95 663.06,229.21 661.93,228.61 660.79,229.21 661.01,227.95 660.09,227.05 661.36,226.87" fill="#262626"/>
<polygon points="665.60,225.72 666.17,226.87 667.43,227.05 666.52,227.95 666.73,229.21 665.60,228.61 664.47,229.21 664.68,227.95 663.77,227.05 665.03,226.87" fill="#262626"/>
<polygon points="669.27,225.72 669.84,226.87 671.11,227.05 670.19,227.95 670.41,229.21 669.27,228.61 668.14,229.21 668.36,227.95 667.44,227.05 668.71,226.87" fill="#262626"/>
<text stroke="#111" stroke-width="0.5" transform="translate(665.80,219.60) scale(1,1.12) translate(-665.80,-219.60)" x="663.35" y="222.81" font-size="9.8" font-family='"Liberation Serif", serif' font-weight="bold" fill="#111">#</text>
<text transform="translate(534.60,293.18) rotate(-90)" font-size="10.99" font-family='"Liberation Serif", serif' font-weight="bold" fill="#111">Spontaneous alternation</text>
<text transform="translate(547.90,266.23) rotate(-90)" font-size="10.78" font-family='"Liberation Serif", serif' font-weight="bold" fill="#111">behavior (%)</text>
</svg>
</body></html>
